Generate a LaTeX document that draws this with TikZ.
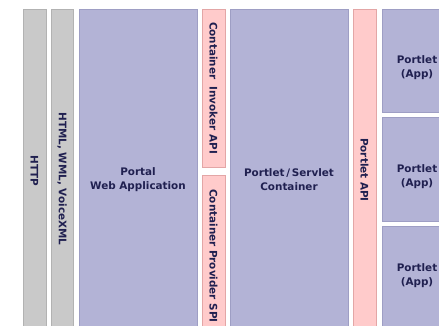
\documentclass[tikz,border=0pt]{standalone}
\usepackage{fontspec}
\setmainfont{DejaVu Sans}
\definecolor{greyfill}{HTML}{C9C9C9}
\definecolor{greyline}{HTML}{B2B2B2}
\definecolor{lavfill}{HTML}{B3B3D6}
\definecolor{lavline}{HTML}{9E9EC4}
\definecolor{pinkfill}{HTML}{FFCBCB}
\definecolor{pinkline}{HTML}{E3A6A6}
\definecolor{txtcol}{HTML}{202050}
\tikzset{
  greybox/.style={draw=greyline, fill=greyfill, line width=0.8pt},
  lavbox/.style={draw=lavline, fill=lavfill, line width=0.6pt},
  pinkbox/.style={draw=pinkline, fill=pinkfill, line width=0.6pt},
  lbl/.style={text=txtcol, font=\bfseries\fontsize{10.4}{14}\selectfont, align=center, inner sep=0pt},
  vlbl/.style={lbl, rotate=-90},
}
\begin{document}
\begin{tikzpicture}[x=1pt, y=-1pt]
\useasboundingbox (0,0) rectangle (439,325);
\fill[white] (0,0) rectangle (439,325);
\begin{scope}
\clip (0,0) rectangle (439,325);
% columns
\path[greybox] (23,9) rectangle (46,355) node[midway] (http) {};
\path[greybox] (51,9) rectangle (73,355) node[midway] (html) {};
\path[lavbox] (79,9) rectangle (197,355) node[midway] (portal) {};
\path[pinkbox] (202,9) rectangle (225,167) node[midway] (cia) {};
\path[pinkbox] (202,175) rectangle (225,355) node[midway] (cps) {};
\path[lavbox] (230,9) rectangle (348,355) node[midway] (psc) {};
\path[pinkbox] (353,9) rectangle (376,355) node[midway] (papi) {};
\path[lavbox] (382,9) rectangle (455,112) node[midway] (p1) {};
\path[lavbox] (382,117) rectangle (455,221) node[midway] (p2) {};
\path[lavbox] (382,226) rectangle (455,340) node[midway] (p3) {};
% labels
\node[vlbl] (thttp) at (34.5,171) {HTTP};
\node[vlbl] (thtml) at (62,179) {HTML, WML, VoiceXML};
\node[lbl] (tportal) at (138,180) {Portal\\Web Application};
\node[vlbl] (tcia) at (213.5,88) {Container\ \ Invoker\ API};
\node[vlbl] (tcps) at (213.5,256) {Container\ Provider\ SPI};
\node[lbl] (tpsc) at (289,180) {Portlet\,/\,Servlet\\Container};
\node[vlbl] (tpapi) at (364.5,170) {Portlet API};
\node[lbl] (tp1) at (417,68) {Portlet\\(App)};
\node[lbl] (tp2) at (417,177) {Portlet\\(App)};
\node[lbl] (tp3) at (417,276) {Portlet\\(App)};
\end{scope}
\end{tikzpicture}
\end{document}
